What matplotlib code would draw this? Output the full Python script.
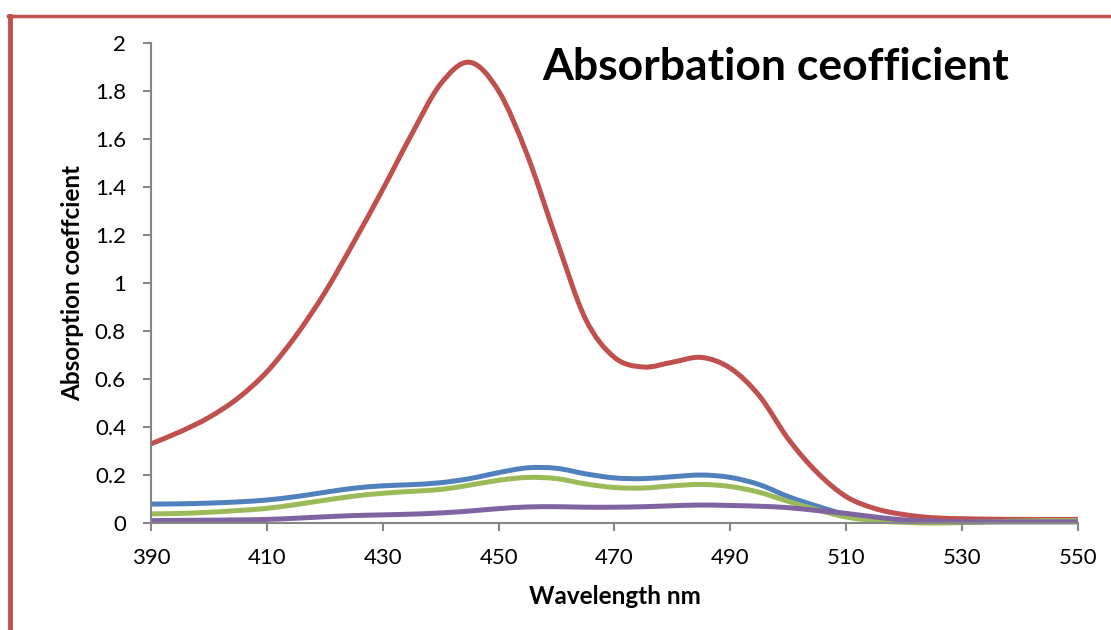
import matplotlib.pyplot as plt
import numpy as np
from matplotlib.path import Path
from matplotlib.patches import PathPatch
from matplotlib.lines import Line2D

wavelength = list(range(390, 551, 5))

blue = [0.079, 0.080, 0.083, 0.088, 0.096, 0.11, 0.128, 0.145, 0.155, 0.16, 0.168,
        0.185, 0.21, 0.23, 0.228, 0.205, 0.188, 0.185, 0.193, 0.2, 0.19, 0.16,
        0.11, 0.07, 0.035, 0.015, 0.008, 0.006, 0.006, 0.006, 0.006, 0.006, 0.006]
red = [0.33, 0.38, 0.44, 0.52, 0.63, 0.78, 0.96, 1.17, 1.39, 1.62, 1.83,
       1.92, 1.80, 1.53, 1.18, 0.85, 0.69, 0.65, 0.67, 0.69, 0.645, 0.53,
       0.35, 0.21, 0.11, 0.06, 0.035, 0.022, 0.018, 0.016, 0.015, 0.015, 0.015]
green = [0.038, 0.04, 0.045, 0.052, 0.061, 0.077, 0.095, 0.112, 0.124, 0.132, 0.14,
         0.158, 0.178, 0.19, 0.185, 0.163, 0.148, 0.146, 0.155, 0.161, 0.152, 0.128,
         0.09, 0.055, 0.025, 0.01, 0.003, 0.0, 0.002, 0.005, 0.008, 0.01, 0.01]
purple = [0.01, 0.011, 0.012, 0.013, 0.015, 0.02, 0.026, 0.031, 0.034, 0.037, 0.042,
          0.05, 0.06, 0.067, 0.068, 0.066, 0.066, 0.068, 0.072, 0.075, 0.073, 0.07,
          0.064, 0.052, 0.04, 0.025, 0.013, 0.008, 0.005, 0.005, 0.005, 0.005, 0.005]

series = [(blue, "#4F81BD"), (red, "#C0504D"), (green, "#9BBB59"), (purple, "#8064A2")]

xticks = [390, 410, 430, 450, 470, 490, 510, 530, 550]
yticks = [0, 0.2, 0.4, 0.6, 0.8, 1, 1.2, 1.4, 1.6, 1.8, 2]
ylabels = ["0", "0.2", "0.4", "0.6", "0.8", "1", "1.2", "1.4", "1.6", "1.8", "2"]


# smoothed line like excel (catmull-rom as bezier)
def smooth_path(xs, ys):
    pts = np.column_stack([xs, ys]).astype(float)
    n = len(pts)
    verts = [pts[0]]
    codes = [Path.MOVETO]
    for i in range(n - 1):
        p0 = pts[i - 1] if i > 0 else pts[i]
        p1 = pts[i]
        p2 = pts[i + 1]
        p3 = pts[i + 2] if i + 2 < n else pts[i + 1]
        verts += [p1 + (p2 - p0) / 6, p2 - (p3 - p1) / 6, p2]
        codes += [Path.CURVE4] * 3
    return Path(verts, codes)


plt.rcParams['font.family'] = ['Lato', 'DejaVu Sans']

fig = plt.figure(figsize=(11.11, 6.30), dpi=100)
ax = fig.add_axes([0.1359, 0.1698, 0.8344, 0.7619])

for ys, col in series:
    patch = PathPatch(smooth_path(wavelength, ys), facecolor="none", edgecolor=col,
                      lw=3.6, capstyle="butt", joinstyle="round", clip_on=False)
    ax.add_patch(patch)

ax.set_xlim(390, 550)
ax.set_ylim(0, 2)
ax.set_xticks(xticks)
ax.set_yticks(yticks)
ax.set_yticklabels(ylabels)

for s in ["top", "right"]:
    ax.spines[s].set_visible(False)
for s in ["left", "bottom"]:
    ax.spines[s].set_color("#868686")
    ax.spines[s].set_linewidth(1.5)
ax.tick_params(axis="both", colors="#868686", length=6, width=1.5, labelsize=16,
               labelcolor="black")
ax.tick_params(axis="y", pad=12)
ax.tick_params(axis="x", pad=12)

ax.set_xlabel("Wavelength nm", fontsize=17.5, fontweight="bold", labelpad=12)
ax.set_ylabel("Absorption coeffcient", fontsize=17.5, fontweight="bold", labelpad=8)

fig.text(0.698, 0.893, "Absorbation ceofficient", fontsize=32, fontweight="bold",
         ha="center", va="center")

# red frame of the chart area
fig.add_artist(Line2D([0.0075, 1.0], [0.974, 0.974], color="#C0504D", lw=2.5))
fig.add_artist(Line2D([0.0088, 0.0088], [0.0, 0.974], color="#C0504D", lw=3.5))

fig.savefig("out.png", dpi=100)
